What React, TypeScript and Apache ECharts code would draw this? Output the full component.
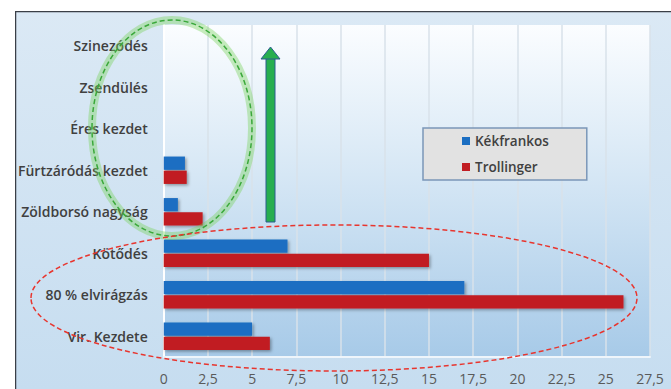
import React, { useEffect, useRef } from "react";
import * as echarts from "echarts";

const categories = [
  "Szinezódés",
  "Zsendülés",
  "Éres kezdet",
  "Fürtzáródás kezdet",
  "Zöldborsó nagyság",
  "Kötődés",
  "80 % elvirágzás",
  "Vir. Kezdete",
];
const kekfrankos = [0, 0, 0, 1.2, 0.8, 7, 17, 5];
const trollinger = [0, 0, 0, 1.3, 2.2, 15, 26, 6];
const seriesNames = ["Kékfrankos", "Trollinger"];
const xMin = 0;
const xMax = 27.5;
const xStep = 2.5;

// chart frame offset inside the page
const OX = 15;
const OY = 11;

export default function App() {
  const ref = useRef<HTMLDivElement>(null);
  useEffect(() => {
    if (!ref.current) return;
    const chart = echarts.init(ref.current, null, { renderer: "svg" });
    const labelColor = "#404040";
    chart.setOption({
      animation: false,
      backgroundColor: {
        type: "linear",
        x: 0,
        y: 0,
        x2: 0,
        y2: 1,
        colorStops: [
          { offset: 0, color: "#dbe9f5" },
          { offset: 1, color: "#c6ddf0" },
        ],
      },
      grid: {
        left: 162 - OX,
        right: 21,
        top: 25 - OY,
        bottom: 32,
        show: true,
        borderWidth: 0,
        backgroundColor: {
          type: "linear",
          x: 0,
          y: 0,
          x2: 0,
          y2: 1,
          colorStops: [
            { offset: 0, color: "#fbfdff" },
            { offset: 0.45, color: "#d6e7f5" },
            { offset: 1, color: "#a7cae8" },
          ],
        },
      },
      legend: {
        data: seriesNames,
        orient: "vertical",
        left: 423 - OX,
        top: 128 - OY,
        icon: "rect",
        itemWidth: 8,
        itemHeight: 8,
        itemGap: 12,
        padding: [6, 38, 6, 39],
        backgroundColor: "#e2e2e2",
        borderColor: "#7b97b8",
        borderWidth: 1.5,
        textStyle: {
          color: labelColor,
          fontFamily: "Open Sans",
          fontSize: 13.5,
          fontWeight: 600,
        },
      },
      xAxis: {
        type: "value",
        min: xMin,
        max: xMax,
        interval: xStep,
        axisLine: { show: true, lineStyle: { color: "#eef5fb", width: 2 } },
        axisTick: { show: false },
        axisLabel: {
          color: "#5a5a5a",
          fontFamily: "Open Sans",
          fontSize: 14,
          margin: 14,
          formatter: (v: number) => String(v).replace(".", ","),
        },
        splitLine: { lineStyle: { color: "#d9e2ea", width: 1.5 } },
      },
      yAxis: {
        type: "category",
        data: categories,
        inverse: true,
        axisLine: { show: true, lineStyle: { color: "#ffffff", width: 2 } },
        axisTick: { show: false },
        axisLabel: {
          color: labelColor,
          fontFamily: "Open Sans",
          fontSize: 14,
          fontWeight: 600,
          margin: 16,
        },
      },
      series: [
        {
          name: seriesNames[0],
          type: "bar",
          data: kekfrankos,
          barGap: "6%",
          barCategoryGap: "34%",
          itemStyle: {
            color: "#1b6ec2",
            shadowBlur: 3,
            shadowColor: "rgba(0,0,0,0.35)",
            shadowOffsetX: 1.5,
            shadowOffsetY: 1.5,
          },
        },
        {
          name: seriesNames[1],
          type: "bar",
          data: trollinger,
          barGap: "6%",
          barCategoryGap: "34%",
          itemStyle: {
            color: "#c11d22",
            shadowBlur: 3,
            shadowColor: "rgba(0,0,0,0.35)",
            shadowOffsetX: 1.5,
            shadowOffsetY: 1.5,
          },
        },
      ],
      graphic: [
        {
          type: "rect",
          shape: { x: 0, y: 0, width: 700, height: 420 },
          style: { fill: "none", stroke: "#3a3f47", lineWidth: 2.5 },
          silent: true,
          z: 100,
        },
        {
          type: "ellipse",
          shape: { cx: 172 - OX, cy: 128 - OY, rx: 80, ry: 108 },
          style: { fill: "none", stroke: "rgba(120,210,90,0.4)", lineWidth: 8 },
          silent: true,
          z: 100,
        },
        {
          type: "ellipse",
          shape: { cx: 172 - OX, cy: 128 - OY, rx: 80, ry: 108 },
          style: { fill: "none", stroke: "#3aa83a", lineWidth: 1.5, lineDash: [5, 3] },
          silent: true,
          z: 101,
        },
        {
          type: "ellipse",
          shape: { cx: 334 - OX, cy: 298 - OY, rx: 303, ry: 73 },
          style: { fill: "none", stroke: "#e8352e", lineWidth: 1.5, lineDash: [5, 3] },
          silent: true,
          z: 101,
        },
        {
          type: "rect",
          shape: { x: 266 - OX, y: 58 - OY, width: 9, height: 164 },
          style: { fill: "#27ae4f", stroke: "#2a5d8f", lineWidth: 1 },
          silent: true,
          z: 101,
        },
        {
          type: "polygon",
          shape: { points: [[261 - OX, 59 - OY], [270.5 - OX, 47 - OY], [280 - OX, 59 - OY]] },
          style: { fill: "#27ae4f", stroke: "#2a5d8f", lineWidth: 1 },
          silent: true,
          z: 101,
        },
      ],
    });
    return () => chart.dispose();
  }, []);
  return (
    <div style={{ position: "absolute", left: 0, top: 0, width: 671, height: 389, background: "#ffffff", overflow: "hidden" }}>
      <div ref={ref} style={{ width: 671 - OX, height: 389 - OY, position: "absolute", left: OX, top: OY }} />
    </div>
  );
}
